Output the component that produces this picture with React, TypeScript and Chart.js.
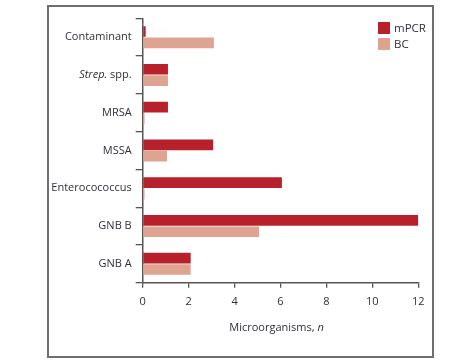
import React, { useEffect, useRef } from "react";
import { Chart, registerables } from "chart.js";

Chart.register(...registerables);

const categories = ["Contaminant", "Strep. spp.", "MRSA", "MSSA", "Enterocococcus", "GNB B", "GNB A"];
const mpcrValues = [0.13, 1.1, 1.1, 3.07, 6.06, 12, 2.09];
const bcValues = [3.1, 1.1, 0.08, 1.06, 0.08, 5.07, 2.09];
const xTickValues = [0, 2, 4, 6, 8, 10, 12];
const seriesLabels = ["mPCR", "BC"];
const seriesColors = ["#B7212B", "#DFA491"];
const xTitleMain = "Microorganisms, ";
const xTitleItalic = "n";

const FONT = '"Open Sans", "DejaVu Sans", sans-serif';
const TEXT = "#30303a";
const AXIS = "#555555";

const overlayPlugin = {
  id: "overlay",
  afterDraw(chart: any) {
    const ctx = chart.ctx;
    const area = chart.chartArea;
    const yScale = chart.scales.y;
    ctx.save();
    ctx.fillStyle = TEXT;
    ctx.textBaseline = "middle";

    // Strep. spp. label with italic genus
    const y1 = yScale.getPixelForValue(1);
    const right = area.left - 11;
    ctx.font = `11px ${FONT}`;
    const rest = " spp.";
    const wRest = ctx.measureText(rest).width;
    ctx.textAlign = "right";
    ctx.fillText(rest, right, y1);
    ctx.font = `italic 11px ${FONT}`;
    ctx.fillText("Strep.", right - wRest, y1);

    // x-axis title
    ctx.textAlign = "left";
    ctx.font = `11px ${FONT}`;
    const w1 = ctx.measureText(xTitleMain).width;
    ctx.font = `italic 11px ${FONT}`;
    const w2 = ctx.measureText(xTitleItalic).width;
    const cx = (area.left + area.right) / 2 - 4;
    const start = cx - (w1 + w2) / 2;
    const ty = 328;
    ctx.font = `11px ${FONT}`;
    ctx.fillText(xTitleMain, start, ty);
    ctx.font = `italic 11px ${FONT}`;
    ctx.fillText(xTitleItalic, start + w1, ty);

    // legend
    const lx = 378;
    const ly = 22;
    seriesLabels.forEach((lab, i) => {
      ctx.fillStyle = seriesColors[i];
      ctx.fillRect(lx, ly + i * 16, 12, 12);
      ctx.fillStyle = TEXT;
      ctx.font = `11.5px ${FONT}`;
      ctx.textAlign = "left";
      ctx.fillText(lab, lx + 16, ly + i * 16 + 6.5);
    });
    ctx.restore();
  },
};

export default function App() {
  const ref = useRef<HTMLCanvasElement | null>(null);

  useEffect(() => {
    if (!ref.current) return;
    const chart = new Chart(ref.current, {
      type: "bar",
      data: {
        labels: categories,
        datasets: [
          {
            label: seriesLabels[0],
            data: mpcrValues,
            backgroundColor: seriesColors[0],
            categoryPercentage: 0.6,
            barPercentage: 0.94,
          },
          {
            label: seriesLabels[1],
            data: bcValues,
            backgroundColor: seriesColors[1],
            categoryPercentage: 0.6,
            barPercentage: 0.94,
          },
        ],
      },
      options: {
        indexAxis: "y",
        responsive: false,
        animation: false,
        devicePixelRatio: 1,
        layout: { padding: { left: 47, right: 54.7, top: 18.3, bottom: 0 } },
        plugins: {
          legend: { display: false },
          tooltip: { enabled: false },
        },
        scales: {
          x: {
            type: "linear",
            min: 0,
            max: 12,
            afterFit: (s: any) => {
              s.height = 363 - 282.7;
            },
            afterBuildTicks: (s: any) => {
              s.ticks = xTickValues.map((v) => ({ value: v }));
            },
            grid: {
              drawOnChartArea: false,
              drawTicks: true,
              tickLength: 5,
              color: AXIS,
              lineWidth: 1.3,
            },
            border: { display: true, color: AXIS, width: 1.5 },
            ticks: {
              color: TEXT,
              font: { family: FONT, size: 11 },
              padding: 8,
            },
          },
          y: {
            type: "category",
            afterFit: (s: any) => {
              s.width = 95.7;
            },
            grid: {
              drawOnChartArea: false,
              drawTicks: true,
              tickLength: 7,
              offset: true,
              color: AXIS,
              lineWidth: 1.3,
            },
            border: { display: true, color: AXIS, width: 1.5 },
            ticks: {
              color: TEXT,
              font: { family: FONT, size: 11 },
              padding: 4,
              callback: (_v: any, i: number) => (i === 1 ? "" : categories[i]),
            },
          },
        },
      },
      plugins: [overlayPlugin],
    } as any);
    return () => chart.destroy();
  }, []);

  return (
    <div style={{ position: "fixed", left: 0, top: 0, width: 473, height: 363, background: "#fff" }}>
      <canvas ref={ref} width={473} height={363} style={{ position: "absolute", left: 0, top: 0, width: 473, height: 363 }} />
      <div
        style={{
          position: "absolute",
          left: 47,
          top: 5,
          width: 383,
          height: 349,
          border: "2px solid #6f6f6f",
          pointerEvents: "none",
        }}
      />
    </div>
  );
}
